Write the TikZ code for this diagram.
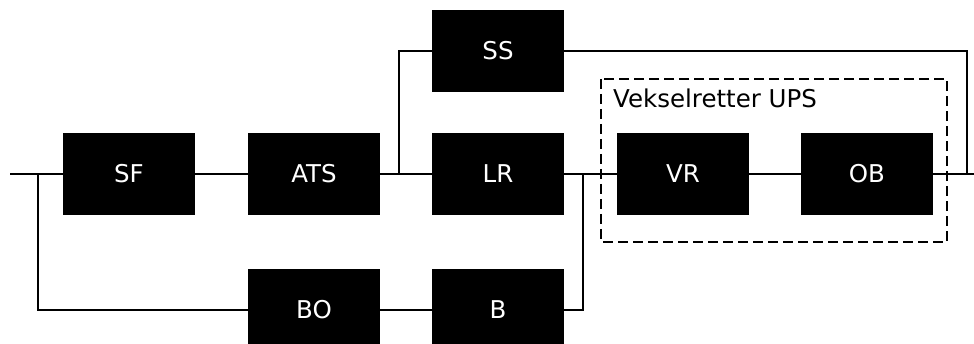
\documentclass[tikz,border=0pt]{standalone}
\usepackage{fontspec}
\setmainfont{DejaVu Sans}
\begin{document}
\begin{tikzpicture}[x=1pt,y=-1pt,
  blk/.style={fill=black,draw=none,text=white,minimum width=132pt,minimum height=82pt,
    inner sep=0pt,font=\fontsize{24.5}{28}\selectfont},
  wire/.style={line width=1.6pt},
  group/.style={line width=1.3pt,dash pattern=on 10pt off 5pt}]
\useasboundingbox (0,0) rectangle (974,344);

% blocks
\node[blk] (SF)  at (129,174) {SF};
\node[blk] (ATS) at (314,174) {ATS};
\node[blk] (SS)  at (498,51)  {SS};
\node[blk] (LR)  at (498,174) {LR};
\node[blk] (VR)  at (683,174) {VR};
\node[blk] (OB)  at (867,174) {OB};
\node[blk] (BO)  at (314,310) {BO};
\node[blk] (B)   at (498,310) {B};

% inverter group
\draw[group] (601,79) rectangle (947,242);
\node[anchor=base west,inner sep=0pt,font=\fontsize{24.5}{28}\selectfont] (lbl) at (613,108) {Vekselretter UPS};

% junction points and free ends
\coordinate (in)   at (10,174);
\coordinate (out)  at (974,174);
\coordinate (jin)  at (38,174);
\coordinate (jats) at (399,174);
\coordinate (jlr)  at (583,174);
\coordinate (jout) at (967,174);

% wiring
\draw[wire] (in) -- (SF.west);
\draw[wire] (jin) |- (BO.west);
\draw[wire] (SF.east) -- (ATS.west);
\draw[wire] (ATS.east) -- (LR.west);
\draw[wire] (jats) |- (SS.west);
\draw[wire] (LR.east) -- (VR.west);
\draw[wire] (jlr) |- (B.east);
\draw[wire] (BO.east) -- (B.west);
\draw[wire] (VR.east) -- (OB.west);
\draw[wire] (OB.east) -- (out);
\draw[wire] (SS.east) -| (jout);
\end{tikzpicture}
\end{document}
